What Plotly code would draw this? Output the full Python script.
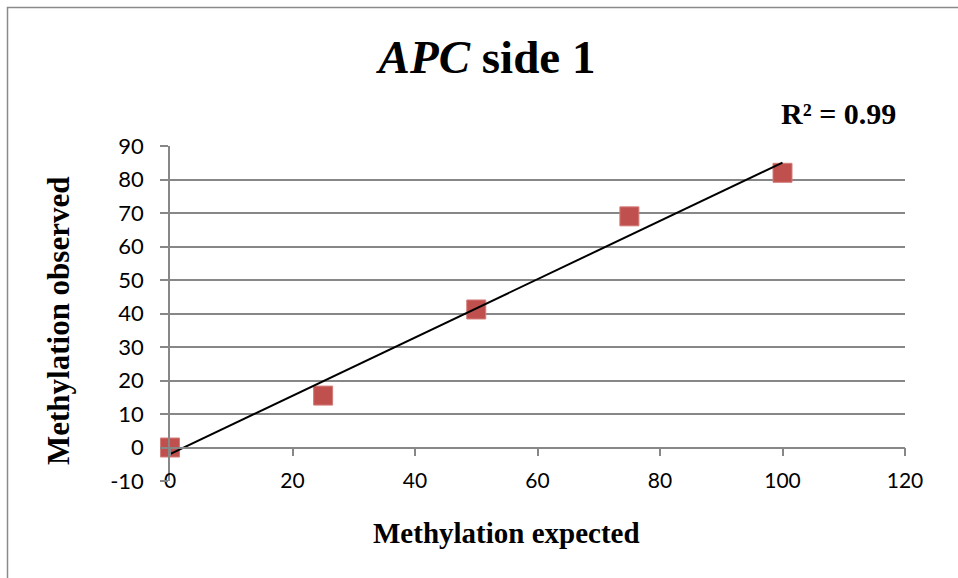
import numpy as np
import plotly.graph_objects as go

# Data
expected = [0, 25, 50, 75, 100]
observed = [0, 15.5, 41.2, 69, 82]
r2_label = "R² = 0.99"
title_text = "<i>APC</i> side 1"
x_title = "Methylation expected"
y_title = "Methylation observed"
x_ticks = [0, 20, 40, 60, 80, 100, 120]
y_ticks = [-10, 0, 10, 20, 30, 40, 50, 60, 70, 80, 90]
y_ticktext = [str(v) for v in y_ticks]  # plain hyphen for negatives

W, H = 958, 578
L, R, T, B = 170, 53, 146, 97
PW, PH = W - L - R, H - T - B

def px(xp):
    return (xp - L) / PW

def py(yp):
    return (H - B - yp) / PH

slope, intercept = np.polyfit(expected, observed, 1)
tx = [min(expected), max(expected)]
ty = [slope * v + intercept for v in tx]

grid = "#878787"
serif = "Liberation Serif, Times New Roman, serif"
sans = "Lato, Carlito, Calibri, sans-serif"

fig = go.Figure()
fig.add_trace(go.Scatter(x=expected, y=observed, mode="markers",
                         marker=dict(symbol="square", size=19, color="#C0504D",
                                     line=dict(color="#D47C79", width=1)),
                         showlegend=False, cliponaxis=False))
fig.add_trace(go.Scatter(x=tx, y=ty, mode="lines",
                         line=dict(color="black", width=2),
                         showlegend=False, cliponaxis=False))
# invisible trace to activate the secondary x axis
fig.add_trace(go.Scatter(x=[0], y=[0], xaxis="x2", mode="markers",
                         marker=dict(opacity=0), showlegend=False, hoverinfo="skip"))

fig.update_layout(
    width=W, height=H,
    margin=dict(l=L, r=R, t=T, b=B),
    paper_bgcolor="white", plot_bgcolor="white",
    title=dict(text=f"<b>{title_text}</b>", x=487 / W, xanchor="center",
               y=1 - 57 / H, yanchor="middle", yref="container",
               font=dict(family=serif, size=47, color="black")),
    xaxis=dict(range=[0, 120], tickvals=x_ticks, showgrid=False, zeroline=False,
               showline=False, ticks="", ticklabelstandoff=-15,
               tickfont=dict(family=sans, size=21, color="black")),
    xaxis2=dict(range=[0, 120], tickvals=x_ticks, overlaying="x", anchor="free",
                position=0.1, showgrid=False, zeroline=False, showline=True,
                linecolor=grid, linewidth=1.5, ticks="outside", ticklen=8,
                tickcolor=grid, tickwidth=1.5, showticklabels=False, side="bottom"),
    yaxis=dict(range=[-10, 90], tickvals=y_ticks, ticktext=y_ticktext,
               showgrid=True, gridcolor=grid,
               gridwidth=1.5, zeroline=False, showline=True, linecolor=grid,
               linewidth=1.5, ticks="outside", ticklen=8, tickcolor=grid,
               tickwidth=1.5, ticklabelstandoff=12,
               tickfont=dict(family=sans, size=22, color="black")),
    shapes=[dict(type="rect", xref="paper", yref="paper",
                 x0=px(7.5), x1=px(W + 20), y0=py(H + 20), y1=py(7.5),
                 line=dict(color="#8a8a8a", width=1.5), fillcolor="rgba(0,0,0,0)",
                 layer="below")],
    annotations=[
        dict(text=f"<b>{r2_label}</b>", xref="paper", yref="paper",
             x=px(838), y=py(113), xanchor="center", yanchor="middle",
             showarrow=False, font=dict(family=serif, size=30, color="black")),
        dict(text=f"<b>{x_title}</b>", xref="paper", yref="paper",
             x=px(506), y=py(533), xanchor="center", yanchor="middle",
             showarrow=False, font=dict(family=serif, size=29, color="black")),
        dict(text=f"<b>{y_title}</b>", xref="paper", yref="paper",
             x=px(58), y=py(321), xanchor="center", yanchor="middle", textangle=-90,
             showarrow=False, font=dict(family=serif, size=31, color="black")),
    ],
)

fig.write_html("out.html")
